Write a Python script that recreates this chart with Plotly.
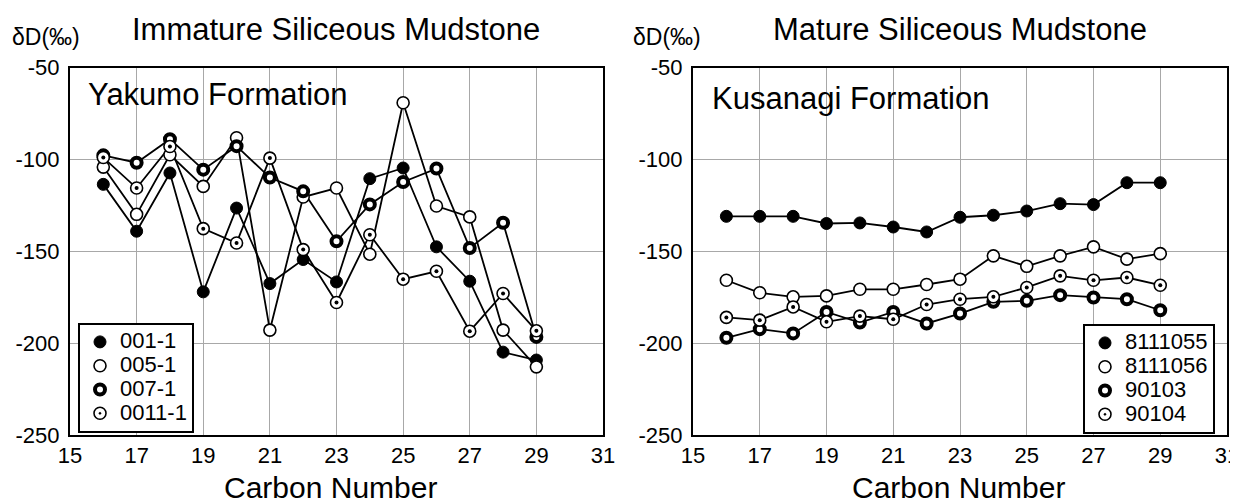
import plotly.graph_objects as go

# ---------------- data ----------------
carbon = [16, 17, 18, 19, 20, 21, 22, 23, 24, 25, 26, 27, 28, 29]

# Immature (Yakumo Formation)
s001_1 = [-113.6, -139.1, -107.4, -172.1, -126.5, -167.6, -154.5, -166.7, -110.5, -104.7, -147.6, -166.3, -204.9, -209.2]
s005_1 = [-104.2, -129.9, -97.5, -114.7, -88.2, -192.9, -120.5, -115.6, -151.6, -69.2, -125.4, -131.3, -192.9, -212.9]
s007_1 = [-97.8, -101.8, -89.0, -105.6, -92.8, -109.9, -117.4, -144.6, -124.5, -112.3, -105.0, -148.2, -134.5, -196.6]
s0011_1 = [-99.0, -115.6, -93.0, -137.7, -145.5, -99.3, -149.1, -177.9, -141.0, -165.2, -160.9, -193.5, -173.0, -193.3]

# Mature (Kusanagi Formation)
s8111055 = [-131.0, -131.0, -131.0, -134.9, -134.6, -136.8, -139.5, -131.5, -130.4, -128.1, -124.1, -124.6, -112.7, -112.7]
s8111056 = [-165.8, -172.6, -174.8, -174.3, -170.7, -170.7, -168.1, -165.2, -152.5, -158.2, -152.5, -147.6, -154.3, -151.3]
s90103 = [-197.1, -192.4, -194.7, -183.0, -188.8, -183.0, -189.3, -183.9, -177.5, -177.0, -173.9, -175.2, -176.1, -182.1]
s90104 = [-186.0, -187.5, -180.3, -188.4, -185.3, -187.0, -179.0, -176.1, -174.8, -169.7, -163.4, -165.8, -164.3, -168.5]

left_names = ["001-1", "005-1", "007-1", "0011-1"]
right_names = ["8111055", "8111056", "90103", "90104"]

x_ticks = [15, 17, 19, 21, 23, 25, 27, 29, 31]
x_ticktext = ["15", "17", "19", "21", "23", "25", "27", "29", "31"]
y_ticks = [-250, -200, -150, -100, -50]
y_ticktext = ["-250", "-200", "-150", "-100", "-50"]

# ---------------- styling ----------------
FONT = "Arial, Liberation Sans, Helvetica, sans-serif"
W, H = 1238, 503
OFF = 8  # page body margin
FW, FH = W - OFF, H - OFF

styles = [
    dict(symbol="circle", size=12, color="black", line=dict(color="black", width=1)),
    dict(symbol="circle", size=12, color="white", line=dict(color="black", width=1.6)),
    dict(symbol="circle", size=10, color="white", line=dict(color="black", width=4)),
    dict(symbol="circle-dot", size=12, color="white", line=dict(color="black", width=1.6)),
]

fig = go.Figure()


def add_series(names, series, xa, ya, leg):
    for name, ys, st in zip(names, series, styles):
        # connecting line
        fig.add_trace(go.Scatter(x=carbon, y=ys, mode="lines", showlegend=False,
                                 line=dict(color="black", width=1.8),
                                 xaxis=xa, yaxis=ya, hoverinfo="skip"))
    for name, ys, st in zip(names, series, styles):
        fig.add_trace(go.Scatter(x=carbon, y=ys, mode="markers",
                                 name=f'<span style="font-size:22px">{name}</span>',
                                 marker=st, xaxis=xa, yaxis=ya, legend=leg))
        if st["symbol"] == "circle-dot":
            fig.add_trace(go.Scatter(x=carbon, y=ys, mode="markers", showlegend=False,
                                     marker=dict(symbol="circle", size=4, color="black"),
                                     xaxis=xa, yaxis=ya, hoverinfo="skip"))


add_series(left_names, [s001_1, s005_1, s007_1, s0011_1], "x", "y", "legend")
add_series(right_names, [s8111055, s8111056, s90103, s90104], "x2", "y2", "legend2")


def px2x(p):
    return (p - OFF) / FW


def px2y(p):
    return 1 - (p - OFF) / FH


ydom = [px2y(435), px2y(67.5)]
axis_common = dict(showline=True, linecolor="black", linewidth=2, mirror=True,
                   showgrid=True, gridcolor="#a8a8a8", gridwidth=1,
                   zeroline=False, ticks="", automargin=False,
                   ticklabeloverflow="allow",
                   tickfont=dict(family=FONT, size=22, color="black"))

leg_common = dict(xanchor="left", yanchor="top", bgcolor="white",
                  bordercolor="black", borderwidth=2,
                  font=dict(family=FONT, size=16, color="black"),
                  itemwidth=30, tracegroupgap=0)

fig.update_layout(
    width=FW, height=FH,
    margin=dict(l=0, r=0, t=0, b=0),
    paper_bgcolor="white", plot_bgcolor="white",
    font=dict(family=FONT, color="black"),
    xaxis=dict(domain=[px2x(70), px2x(603)], range=[15, 31], tickvals=x_ticks,
               ticktext=x_ticktext, anchor="y", ticklabelstandoff=0, **axis_common),
    yaxis=dict(domain=ydom, range=[-250, -50], tickvals=y_ticks, ticktext=y_ticktext,
               anchor="x", ticklabelstandoff=4, **axis_common),
    xaxis2=dict(domain=[px2x(693), px2x(1227)], range=[15, 31], tickvals=x_ticks,
                ticktext=x_ticktext, anchor="y2", ticklabelstandoff=0, **axis_common),
    yaxis2=dict(domain=ydom, range=[-250, -50], tickvals=y_ticks, ticktext=y_ticktext,
                anchor="x2", ticklabelstandoff=4, **axis_common),
    legend=dict(x=px2x(78), y=px2y(323), **leg_common),
    legend2=dict(x=px2x(1083), y=px2y(324), **leg_common),
    showlegend=True,
)

ann = []


def add_text(text, xp, yp, size, xanchor="center"):
    ann.append(dict(text=text, x=px2x(xp), y=px2y(yp), xref="paper", yref="paper",
                    xanchor=xanchor, yanchor="middle", showarrow=False,
                    font=dict(family=FONT, size=size, color="black")))


add_text("Immature Siliceous Mudstone", 336, 30, 31)
add_text("Mature Siliceous Mudstone", 960, 30, 31)
add_text("δD(‰)", 10, 37, 23, xanchor="left")
add_text("δD(‰)", 631, 37, 23, xanchor="left")
add_text("Carbon Number", 330, 487, 30)
add_text("Carbon Number", 958, 487, 30)
add_text("Yakumo Formation", 86, 94, 31, xanchor="left")
add_text("Kusanagi Formation", 710, 99, 31, xanchor="left")
fig.update_layout(annotations=ann)

fig.write_html("out.html")
